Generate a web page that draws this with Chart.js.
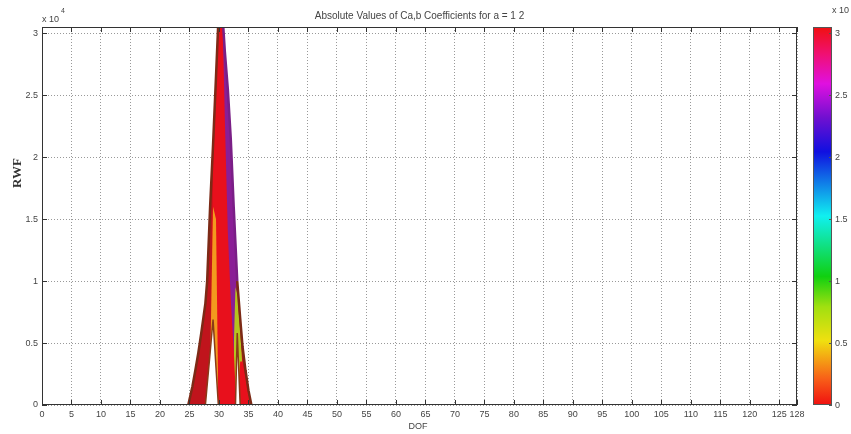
<!DOCTYPE html>
<html>
<head>
<meta charset="utf-8">
<script src="https://cdn.jsdelivr.net/npm/chart.js@4.4.0/dist/chart.umd.min.js"></script>
<style>
  html, body { margin: 0; padding: 0; background: #fff; }
  canvas { display: block; }
</style>
</head>
<body>
<canvas id="scalogram" width="851" height="434"></canvas>
<script>
const dof = [24.8, 25.5, 26, 26.5, 27, 27.7, 28, 28.5, 29, 29.5, 29.9, 30.3, 30.6, 31, 31.5, 32, 32.5, 32.8, 33.1, 33.6, 34, 34.5, 35, 35.5];

// RWF per colour layer (null = layer not present at that DOF)
const envelopeRWF = [0, 1500, 2800, 4200, 5800, 8200, 10000, 16000, 21000, 26500, 31000, 34000, 31500, 28500, 25500, 21500, 16000, 13000, 10000, 7000, 4700, 2800, 1200, 0];
const purpleRWF = [null, null, null, null, null, null, null, null, null, 0, 30000, 33500, 31500, 28500, 25500, 21500, 16000, 12000, 8000, 3000, 0, null, null, null];
const yellowRWF = [null, null, null, null, null, null, null, null, null, null, null, null, null, null, null, null, 4500, 9500, 9000, 6000, 3000, 1000, 0, null];
const redRWF = [null, null, null, null, null, null, null, 0, 19500, 25000, 30000, 33500, 31500, 23000, 14000, 8500, 4500, 1500, 0, 3500, 3500, 2200, 800, 0];
const orangeRWF = [null, null, null, null, null, null, null, 3000, 16000, 15000, 0, null, null, null, null, null, null, null, null, null, null, null, null, null];
// empty notches between the lobes near the base
const gapRWF = [null, null, null, null, null, 0, 1600, 4200, 6900, 3000, 0, null, null, null, null, null, null, 0, 5800, 0, null, null, null, null];

const xTicks = [0, 5, 10, 15, 20, 25, 30, 35, 40, 45, 50, 55, 60, 65, 70, 75, 80, 85, 90, 95, 100, 105, 110, 115, 120, 125, 128];
const yTicks = [0, 5000, 10000, 15000, 20000, 25000, 30000];

// colormap of the colour bar, bottom (0) to top (1)
const colorStops = [[0, '#f01010'], [0.07, '#f86018'], [0.17, '#f0e010'], [0.26, '#a0e010'], [0.34, '#10d010'], [0.5, '#10f0f0'], [0.67, '#1010e0'], [0.76, '#7010d0'], [0.85, '#e010e0'], [0.93, '#f01070'], [1, '#f01010']];

const font = '"Liberation Sans", Arial, sans-serif';

function layer(label, values, color, extra) {
  return Object.assign({
    label: label,
    data: dof.map((x, i) => ({ x: x, y: values[i] })),
    backgroundColor: color,
    borderWidth: 0,
    pointRadius: 0,
    tension: 0,
    fill: 'origin'
  }, extra || {});
}

const framePlugin = {
  id: 'frame',
  afterDraw(chart) {
    const ctx = chart.ctx;
    const a = chart.chartArea;
    const xs = chart.scales.x;
    const ys = chart.scales.y;
    ctx.save();

    // axes box with inward ticks
    ctx.strokeStyle = '#333';
    ctx.lineWidth = 1;
    ctx.strokeRect(a.left + 0.5, a.top + 0.5, a.right - a.left - 1, a.bottom - a.top - 1);
    ctx.beginPath();
    xTicks.forEach(v => {
      const px = Math.round(xs.getPixelForValue(v)) + 0.5;
      ctx.moveTo(px, a.bottom); ctx.lineTo(px, a.bottom - 5);
      ctx.moveTo(px, a.top); ctx.lineTo(px, a.top + 5);
    });
    yTicks.forEach(v => {
      const py = Math.round(ys.getPixelForValue(v)) + 0.5;
      ctx.moveTo(a.left, py); ctx.lineTo(a.left + 5, py);
      ctx.moveTo(a.right, py); ctx.lineTo(a.right - 5, py);
    });
    ctx.stroke();

    ctx.fillStyle = '#444';
    ctx.textBaseline = 'alphabetic';

    // exponent above the y axis
    ctx.font = '9px ' + font;
    ctx.textAlign = 'left';
    ctx.fillText('x 10', 42, 22);
    ctx.font = '7px ' + font;
    ctx.fillText('4', 61, 13);

    // title
    ctx.font = '10px ' + font;
    ctx.textAlign = 'center';
    ctx.fillText('Absolute Values of Ca,b Coefficients for a = 1 2', (a.left + a.right) / 2, 19);

    // axis titles
    ctx.font = '9px ' + font;
    ctx.textBaseline = 'middle';
    ctx.fillText('DOF', 418, 427);
    ctx.save();
    ctx.translate(18, 173);
    ctx.rotate(-Math.PI / 2);
    ctx.font = 'bold 13px "Liberation Serif", "Times New Roman", serif';
    ctx.fillStyle = '#333';
    ctx.fillText('RWF', 0, 0);
    ctx.restore();

    // colour bar
    const cbLeft = 813, cbRight = 832;
    const grad = ctx.createLinearGradient(0, a.bottom, 0, a.top);
    colorStops.forEach(s => grad.addColorStop(s[0], s[1]));
    ctx.fillStyle = grad;
    ctx.fillRect(cbLeft, a.top, cbRight - cbLeft, a.bottom - a.top);
    ctx.strokeStyle = '#555';
    ctx.strokeRect(cbLeft + 0.5, a.top + 0.5, cbRight - cbLeft - 1, a.bottom - a.top - 1);
    ctx.fillStyle = '#444';
    ctx.font = '9px ' + font;
    ctx.textAlign = 'left';
    ctx.beginPath();
    yTicks.forEach(v => {
      const py = Math.round(ys.getPixelForValue(v)) + 0.5;
      ctx.moveTo(cbRight, py); ctx.lineTo(cbRight - 3, py);
      ctx.fillText(String(v / 10000), cbRight + 3, py);
    });
    ctx.stroke();
    ctx.textBaseline = 'alphabetic';
    ctx.fillText('x 10', cbRight, 13);

    ctx.restore();
  }
};

new Chart(document.getElementById('scalogram'), {
  type: 'line',
  data: {
    // first dataset is drawn on top
    datasets: [
      layer('gap', gapRWF, '#ffffff', { borderColor: '#8a3a18', borderWidth: 1.5 }),
      layer('orange', orangeRWF, '#f29a1e'),
      layer('red', redRWF, '#e8101c'),
      layer('yellow', yellowRWF, '#b5c41e'),
      layer('purple', purpleRWF, '#8a1e96'),
      layer('envelope', envelopeRWF, '#c0141c', {
        borderColor: '#7c2a16',
        borderWidth: 2.5,
        clip: 0,
        segment: {
          borderColor: c => (c.p0.parsed.x >= 30.6 && c.p1.parsed.x <= 33.1) ? '#7a1f86' : undefined
        }
      })
    ]
  },
  options: {
    responsive: false,
    animation: false,
    events: [],
    layout: { padding: { top: 27, right: 54, left: 0, bottom: 0 } },
    plugins: {
      legend: { display: false },
      tooltip: { enabled: false },
      filler: { drawTime: 'beforeDatasetsDraw', propagate: false }
    },
    scales: {
      x: {
        type: 'linear',
        min: 0,
        max: 128,
        afterBuildTicks: s => { s.ticks = xTicks.map(v => ({ value: v })); },
        afterFit: s => { s.height = 29; },
        grid: { color: 'rgba(0,0,0,0.4)', lineWidth: 1, drawTicks: false },
        border: { display: false, dash: [1, 2] },
        ticks: {
          autoSkip: false,
          maxRotation: 0,
          padding: 4,
          color: '#444',
          font: { family: font, size: 9 },
          callback: v => String(v)
        }
      },
      y: {
        min: 0,
        max: 30500,
        afterBuildTicks: s => { s.ticks = yTicks.map(v => ({ value: v })); },
        afterFit: s => { s.width = 42; },
        grid: { color: 'rgba(0,0,0,0.4)', lineWidth: 1, drawTicks: false },
        border: { display: false, dash: [1, 2] },
        ticks: {
          padding: 4,
          color: '#444',
          font: { family: font, size: 9 },
          callback: v => String(v / 10000)
        }
      }
    }
  },
  plugins: [framePlugin]
});
</script>
</body>
</html>
